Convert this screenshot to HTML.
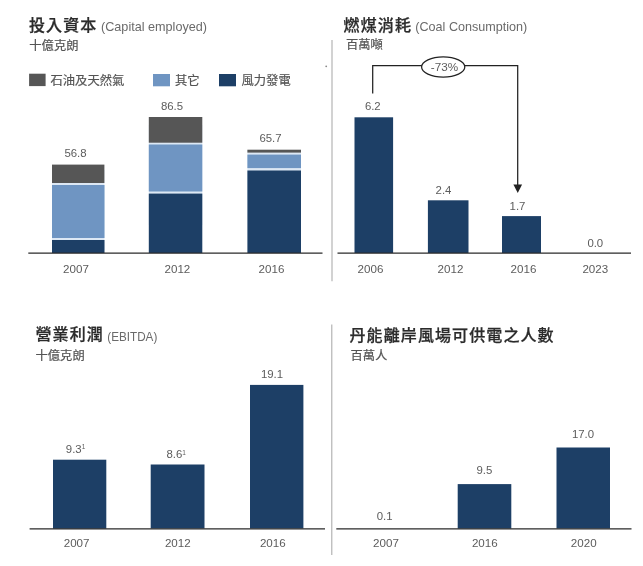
<!DOCTYPE html>
<html><head><meta charset="utf-8">
<style>
html,body{margin:0;padding:0;background:#fff;}
body{width:643px;height:566px;overflow:hidden;position:relative;}
svg{position:absolute;left:0;top:0;filter:blur(0.35px);}
text{font-family:"Liberation Sans","Noto Sans CJK TC",sans-serif;fill:#5a5a5a;}
.t{font-weight:500;font-size:16px;letter-spacing:1.1px;fill:#2b2b2b;stroke:#2b2b2b;stroke-width:0.25px;}
.s{font-size:12.1px;fill:#6a6a6a;}
.u{font-size:12.3px;fill:#555;stroke:#555;stroke-width:0.2px;}
.n{font-size:11.4px;fill:#5c5c5c;text-anchor:middle;}
.y{font-size:11.6px;fill:#5c5c5c;text-anchor:middle;}
.navy{fill:#1d3f66;}
.lb{fill:#6f95c2;}
.gr{fill:#565656;}
.ax{stroke:#2a2a2a;stroke-width:1.2;}
</style></head><body>
<svg width="643" height="566" viewBox="0 0 643 566">
<rect width="643" height="566" fill="#fff"/>
<!-- dividers -->
<line x1="332" y1="40" x2="332" y2="281.3" stroke="#a9a9a9" stroke-width="1.05"/>
<line x1="331.8" y1="324.5" x2="331.8" y2="555" stroke="#a9a9a9" stroke-width="1.05"/>
<circle cx="326.2" cy="66.3" r="0.9" fill="#888"/>

<!-- chart 1 -->
<text class="t" x="29" y="31">投入資本</text>
<text class="s" x="101" y="31.4" textLength="106" lengthAdjust="spacingAndGlyphs">(Capital employed)</text>
<text class="u" x="29.3" y="49.5">十億克朗</text>
<rect class="gr" x="29.1" y="73.7" width="16.5" height="12.4"/>
<text class="u" x="50.5" y="84.8">石油及天然氣</text>
<rect class="lb" x="153" y="74" width="17" height="12.3"/>
<text class="u" x="175" y="84.8">其它</text>
<rect class="navy" x="219" y="74" width="17" height="12.3"/>
<text class="u" x="241.5" y="84.8">風力發電</text>

<rect x="52" y="170" width="52.4" height="80" fill="#dde8f4"/>
<rect class="gr" x="52" y="164.6" width="52.4" height="18.4"/>
<rect class="lb" x="52" y="185" width="52.5" height="53"/>
<rect class="navy" x="52" y="240" width="52.5" height="13"/>
<text class="n" x="75.5" y="157.3">56.8</text>

<rect x="148.8" y="125" width="53.5" height="100" fill="#dde8f4"/>
<rect class="gr" x="148.8" y="117" width="53.5" height="25.7"/>
<rect class="lb" x="148.8" y="144.5" width="53.5" height="47"/>
<rect class="navy" x="148.8" y="193.6" width="53.5" height="59.4"/>
<text class="n" x="172" y="110">86.5</text>

<rect x="247.4" y="150" width="53.6" height="50" fill="#dde8f4"/>
<rect class="gr" x="247.4" y="149.7" width="53.6" height="2.9"/>
<rect class="lb" x="247.4" y="154.6" width="53.6" height="13.5"/>
<rect class="navy" x="247.4" y="170.5" width="53.6" height="82.5"/>
<text class="n" x="270.5" y="141.8">65.7</text>

<line class="ax" x1="28.3" y1="253.1" x2="322.5" y2="253.1"/>
<text class="y" x="76" y="273.3">2007</text>
<text class="y" x="177.4" y="273.3">2012</text>
<text class="y" x="271.5" y="273.3">2016</text>

<!-- chart 2 -->
<text class="t" x="343.6" y="30.6">燃煤消耗</text>
<text class="s" x="415.3" y="31.2" textLength="112" lengthAdjust="spacingAndGlyphs">(Coal Consumption)</text>
<text class="u" x="346" y="48.9">百萬噸</text>
<rect class="navy" x="354.5" y="117.3" width="38.6" height="135.7"/>
<rect class="navy" x="427.9" y="200.3" width="40.6" height="52.7"/>
<rect class="navy" x="502" y="216.1" width="39" height="36.9"/>
<text class="n" x="372.8" y="110">6.2</text>
<text class="n" x="443.5" y="194">2.4</text>
<text class="n" x="517.5" y="210">1.7</text>
<text class="n" x="595.3" y="247">0.0</text>
<line class="ax" x1="337.5" y1="253.1" x2="631" y2="253.1"/>
<text class="y" x="370.5" y="273.3">2006</text>
<text class="y" x="450.5" y="273.3">2012</text>
<text class="y" x="523.5" y="273.3">2016</text>
<text class="y" x="595.3" y="273.3">2023</text>
<path d="M372.7 93.5 V65.7 H517.7 V186" fill="none" stroke="#222" stroke-width="1.25"/>
<path d="M513.4 184.6 L522.1 184.6 L517.75 192.9 Z" fill="#222"/>
<ellipse cx="443.2" cy="67" rx="21.6" ry="10.1" fill="#fff" stroke="#222" stroke-width="1.25"/>
<text class="n" x="444.5" y="71.3" style="font-size:11.7px">-73%</text>

<!-- chart 3 -->
<text class="t" x="35.5" y="340">營業利潤</text>
<text class="s" x="107.3" y="340.6" textLength="50" lengthAdjust="spacingAndGlyphs">(EBITDA)</text>
<text class="u" x="35.5" y="359.7">十億克朗</text>
<rect class="navy" x="53" y="459.7" width="53.3" height="69"/>
<rect class="navy" x="150.7" y="464.5" width="53.8" height="64"/>
<rect class="navy" x="250" y="384.9" width="53.4" height="143.6"/>
<text class="n" x="75.6" y="452.7">9.3<tspan dy="-3.5" style="font-size:6.5px">1</tspan></text>
<text class="n" x="176.2" y="458.4">8.6<tspan dy="-3.5" style="font-size:6.5px">1</tspan></text>
<text class="n" x="272" y="378.3">19.1</text>
<line class="ax" x1="29.6" y1="528.8" x2="325" y2="528.8"/>
<text class="y" x="76.6" y="546.7">2007</text>
<text class="y" x="177.8" y="546.7">2012</text>
<text class="y" x="272.8" y="546.7">2016</text>

<!-- chart 4 -->
<text class="t" x="349.5" y="340.5">丹能離岸風場可供電之人數</text>
<text class="u" x="350.5" y="360.2">百萬人</text>
<rect class="navy" x="457.7" y="484.1" width="53.6" height="44.5"/>
<rect class="navy" x="556.5" y="447.5" width="53.5" height="81"/>
<text class="n" x="384.6" y="520">0.1</text>
<text class="n" x="484.4" y="474.2">9.5</text>
<text class="n" x="583" y="437.6">17.0</text>
<line class="ax" x1="336.3" y1="528.9" x2="631.5" y2="528.9"/>
<text class="y" x="386" y="546.7">2007</text>
<text class="y" x="484.8" y="546.7">2016</text>
<text class="y" x="583.7" y="546.7">2020</text>
</svg>
</body></html>
